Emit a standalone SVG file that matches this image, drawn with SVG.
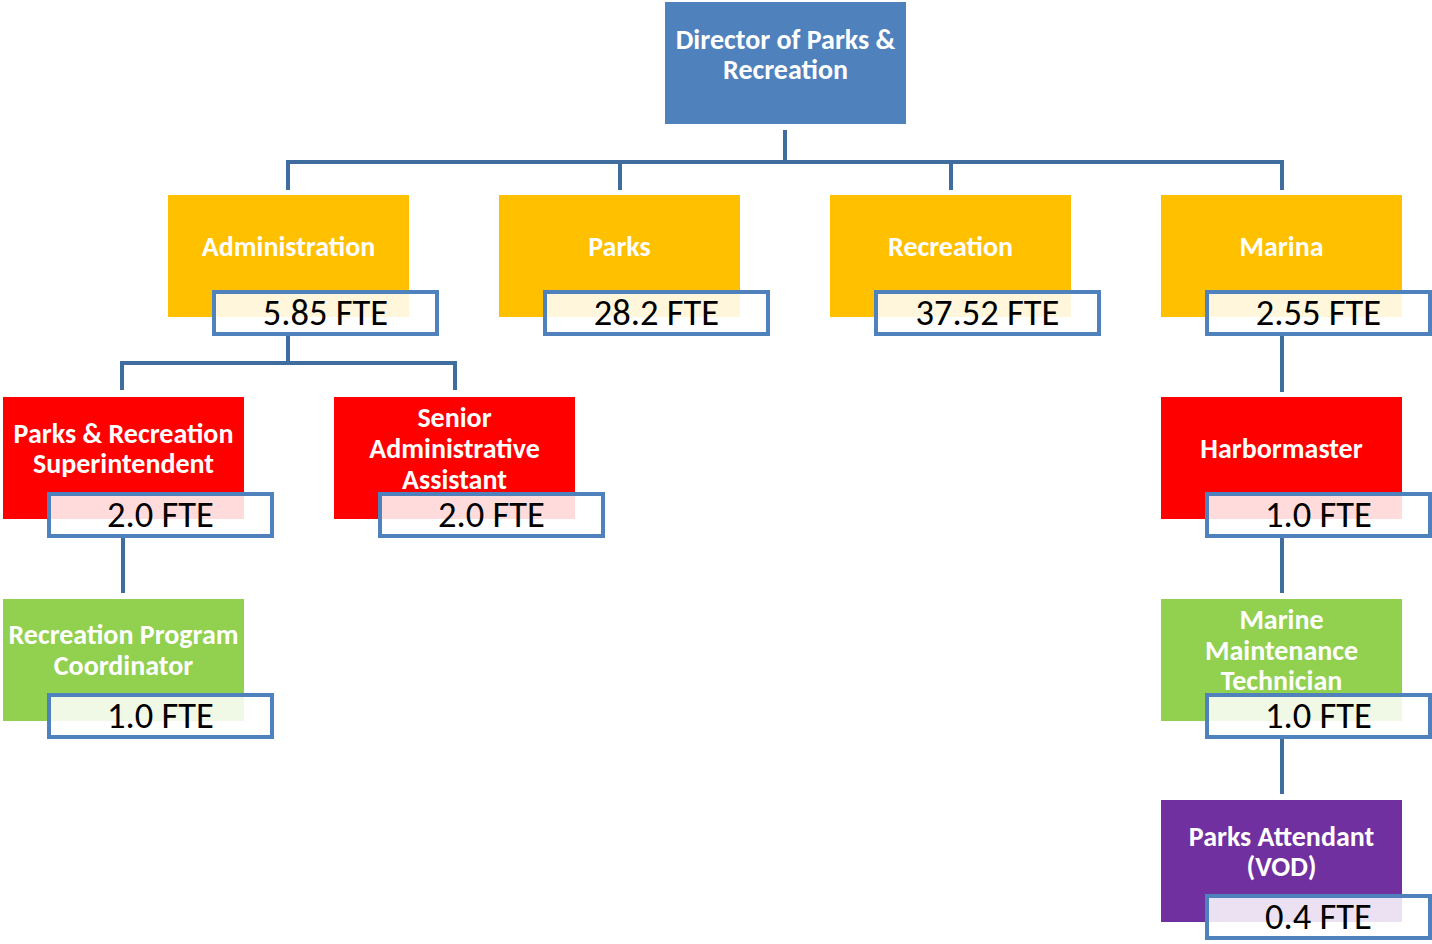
<svg xmlns="http://www.w3.org/2000/svg" width="1432" height="944" viewBox="0 0 1432 944">
  <style>
    .unit { stroke: none; }
    .lbl { font-family: Carlito, Lato, "Liberation Sans", sans-serif; font-weight: bold; font-size: 28px; fill: #ffffff; text-anchor: middle; }
    .fte rect { fill: #ffffff; fill-opacity: 0.86; stroke: #4F81BD; stroke-width: 4; }
    .fte text { font-family: Carlito, Lato, "Liberation Sans", sans-serif; font-size: 36.5px; fill: #000000; text-anchor: middle; }
    .wire { fill: none; stroke: #3F6D9E; stroke-width: 4; }
  </style>

  <!-- reporting lines -->
  <g id="connectors" class="wire">
    <path d="M785 130 V162 M288 162 H1282 M288 160 V190 M620 160 V190 M951 160 V190 M1282 160 V190"/>
    <path d="M288 335 V363 M122 363 H455 M122 361 V390 M455 361 V390"/>
    <path d="M1282 335 V392"/>
    <path d="M123 537 V593"/>
    <path d="M1282 537 V593"/>
    <path d="M1282 738 V794"/>
  </g>

  <g id="director">
    <rect class="unit" x="665" y="2" width="241" height="122" fill="#4F81BD"/>
    <text class="lbl" x="785.5" y="49">Director of Parks &amp;</text>
    <text class="lbl" x="785.5" y="79">Recreation</text>
  </g>

  <g id="administration">
    <rect class="unit" x="168" y="195" width="241" height="122" fill="#FFC000"/>
    <text class="lbl" x="288.5" y="256">Administration</text>
    <g class="fte"><rect x="214" y="292" width="223" height="42"/><text x="325.5" y="325">5.85 FTE</text></g>
  </g>

  <g id="parks">
    <rect class="unit" x="499" y="195" width="241" height="122" fill="#FFC000"/>
    <text class="lbl" x="619.5" y="256">Parks</text>
    <g class="fte"><rect x="545" y="292" width="223" height="42"/><text x="656.5" y="325">28.2 FTE</text></g>
  </g>

  <g id="recreation">
    <rect class="unit" x="830" y="195" width="241" height="122" fill="#FFC000"/>
    <text class="lbl" x="950.5" y="256">Recreation</text>
    <g class="fte"><rect x="876" y="292" width="223" height="42"/><text x="987.5" y="325">37.52 FTE</text></g>
  </g>

  <g id="marina">
    <rect class="unit" x="1161" y="195" width="241" height="122" fill="#FFC000"/>
    <text class="lbl" x="1281.5" y="256">Marina</text>
    <g class="fte"><rect x="1207" y="292" width="223" height="42"/><text x="1318.5" y="325">2.55 FTE</text></g>
  </g>

  <g id="superintendent">
    <rect class="unit" x="3" y="397" width="241" height="122" fill="#FF0000"/>
    <text class="lbl" x="123.5" y="443">Parks &amp; Recreation</text>
    <text class="lbl" x="123.5" y="473">Superintendent</text>
    <g class="fte"><rect x="49" y="494" width="223" height="42"/><text x="160.5" y="527">2.0 FTE</text></g>
  </g>

  <g id="senior-admin">
    <rect class="unit" x="334" y="397" width="241" height="122" fill="#FF0000"/>
    <text class="lbl" x="454.5" y="427">Senior</text>
    <text class="lbl" x="454.5" y="458">Administrative</text>
    <text class="lbl" x="454.5" y="489">Assistant</text>
    <g class="fte"><rect x="380" y="494" width="223" height="42"/><text x="491.5" y="527">2.0 FTE</text></g>
  </g>

  <g id="harbormaster">
    <rect class="unit" x="1161" y="397" width="241" height="122" fill="#FF0000"/>
    <text class="lbl" x="1281.5" y="458">Harbormaster</text>
    <g class="fte"><rect x="1207" y="494" width="223" height="42"/><text x="1318.5" y="527">1.0 FTE</text></g>
  </g>

  <g id="program-coordinator">
    <rect class="unit" x="3" y="599" width="241" height="122" fill="#92D050"/>
    <text class="lbl" x="123.5" y="644">Recreation Program</text>
    <text class="lbl" x="123.5" y="675">Coordinator</text>
    <g class="fte"><rect x="49" y="695" width="223" height="42"/><text x="160.5" y="728">1.0 FTE</text></g>
  </g>

  <g id="maintenance-tech">
    <rect class="unit" x="1161" y="599" width="241" height="122" fill="#92D050"/>
    <text class="lbl" x="1281.5" y="629">Marine</text>
    <text class="lbl" x="1281.5" y="660">Maintenance</text>
    <text class="lbl" x="1281.5" y="690">Technician</text>
    <g class="fte"><rect x="1207" y="695" width="223" height="42"/><text x="1318.5" y="728">1.0 FTE</text></g>
  </g>

  <g id="parks-attendant">
    <rect class="unit" x="1161" y="800" width="241" height="122" fill="#7030A0"/>
    <text class="lbl" x="1281.5" y="846">Parks Attendant</text>
    <text class="lbl" x="1281.5" y="876">(VOD)</text>
    <g class="fte"><rect x="1207" y="896" width="223" height="42"/><text x="1318.5" y="929">0.4 FTE</text></g>
  </g>
</svg>
